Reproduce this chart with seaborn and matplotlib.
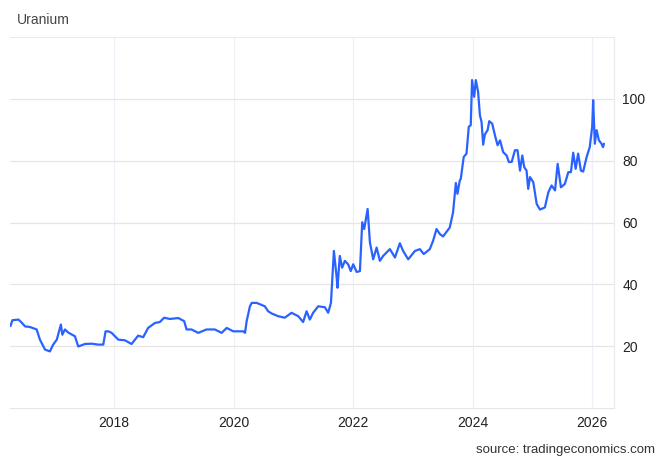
import pandas as pd
import numpy as np
import matplotlib
matplotlib.use("Agg")
import matplotlib.pyplot as plt
import matplotlib.dates as mdates
import seaborn as sns

sns.set_style("white")
plt.rcParams['font.family'] = ['Liberation Sans', 'DejaVu Sans']

# Uranium price (USD/lb)
dates = [
    '2016-04-08', '2016-04-20', '2016-05-27', '2016-06-16', '2016-07-06', '2016-08-05',
    '2016-09-15', '2016-10-05', '2016-11-05', '2016-12-05', '2016-12-25', '2017-01-16',
    '2017-02-10', '2017-02-19', '2017-03-07', '2017-03-27', '2017-05-07', '2017-05-27',
    '2017-07-07', '2017-08-17', '2017-09-26', '2017-10-27', '2017-11-10', '2017-11-27',
    '2017-12-17', '2018-01-27', '2018-03-08', '2018-04-08', '2018-04-18', '2018-05-28',
    '2018-06-28', '2018-07-28', '2018-09-07', '2018-10-07', '2018-11-03', '2018-12-08',
    '2019-01-28', '2019-03-05', '2019-03-20', '2019-04-19', '2019-05-30', '2019-07-20',
    '2019-09-09', '2019-10-20', '2019-11-20', '2019-12-30', '2020-03-01', '2020-03-11',
    '2020-03-21', '2020-04-10', '2020-04-21', '2020-05-21', '2020-07-10', '2020-07-30',
    '2020-08-20', '2020-09-29', '2020-11-09', '2020-12-20', '2021-01-30', '2021-03-01',
    '2021-03-22', '2021-04-11', '2021-05-01', '2021-06-01', '2021-07-12', '2021-08-01',
    '2021-08-18', '2021-09-05', '2021-09-21', '2021-09-27', '2021-10-11', '2021-10-25',
    '2021-11-11', '2021-12-01', '2021-12-17', '2022-01-01', '2022-01-22', '2022-02-11',
    '2022-02-25', '2022-03-09', '2022-03-30', '2022-04-13', '2022-05-03', '2022-05-24',
    '2022-06-13', '2022-07-03', '2022-08-13', '2022-09-13', '2022-10-13', '2022-11-02',
    '2022-12-03', '2023-01-13', '2023-02-12', '2023-03-08', '2023-04-14', '2023-05-04',
    '2023-05-25', '2023-06-14', '2023-07-04', '2023-08-14', '2023-09-03', '2023-09-20',
    '2023-09-30', '2023-10-14', '2023-10-20', '2023-11-07', '2023-11-24', '2023-12-08',
    '2023-12-20', '2023-12-28', '2024-01-10', '2024-01-20', '2024-02-03', '2024-02-14',
    '2024-02-24', '2024-03-05', '2024-03-15', '2024-04-01', '2024-04-11', '2024-04-29',
    '2024-05-16', '2024-06-01', '2024-06-16', '2024-07-05', '2024-07-26', '2024-08-09',
    '2024-08-26', '2024-09-15', '2024-10-01', '2024-10-16', '2024-10-30', '2024-11-11',
    '2024-11-25', '2024-12-05', '2024-12-16', '2025-01-05', '2025-01-26', '2025-02-15',
    '2025-03-17', '2025-04-07', '2025-04-27', '2025-05-18', '2025-06-03', '2025-06-23',
    '2025-07-17', '2025-08-07', '2025-08-23', '2025-09-06', '2025-09-21', '2025-10-06',
    '2025-10-23', '2025-11-06', '2025-11-27', '2025-12-16', '2025-12-31', '2026-01-06',
    '2026-01-16', '2026-01-27', '2026-02-10', '2026-02-26', '2026-03-07', '2026-03-13',
]
prices = [
    26.5, 28.4, 28.6, 27.6, 26.4, 26.2,
    25.4, 22.1, 18.9, 18.3, 20.5, 22.1,
    27.0, 23.7, 25.4, 24.4, 23.2, 19.9,
    20.7, 20.8, 20.5, 20.5, 24.8, 24.8,
    24.3, 22.1, 21.9, 21.0, 20.7, 23.4,
    22.9, 25.9, 27.5, 27.8, 29.2, 28.8,
    29.1, 28.1, 25.4, 25.4, 24.3, 25.4,
    25.4, 24.3, 25.9, 24.8, 24.8, 24.3,
    28.1, 32.9, 34.0, 34.0, 32.9, 31.3,
    30.6, 29.7, 29.2, 30.8, 29.7, 27.8,
    31.3, 28.6, 30.8, 32.9, 32.6, 30.8,
    34.0, 50.8, 42.7, 38.9, 49.2, 45.4,
    47.6, 46.5, 44.3, 46.5, 44.0, 44.3,
    60.1, 57.9, 64.4, 53.6, 48.1, 51.9,
    47.6, 49.2, 51.4, 48.7, 53.3, 50.8,
    48.1, 50.8, 51.4, 49.8, 51.4, 54.1,
    57.9, 56.3, 55.5, 58.4, 63.3, 72.8,
    69.3, 73.6, 74.1, 81.2, 82.3, 91.0,
    91.5, 106.1, 100.7, 106.1, 102.3, 94.7,
    92.6, 85.2, 88.5, 89.9, 92.8, 92.0,
    88.2, 85.0, 86.6, 82.8, 81.7, 79.6,
    79.6, 83.4, 83.4, 76.8, 81.7, 77.9,
    76.8, 70.9, 74.7, 73.1, 66.0, 64.2,
    64.9, 69.8, 72.0, 70.4, 79.0, 71.4,
    72.5, 76.3, 76.3, 82.6, 77.4, 82.3,
    76.8, 76.5, 81.2, 84.4, 91.0, 99.6,
    85.5, 89.9, 86.6, 85.5, 84.4, 85.5,
]
x_ticks = ['2018-01-01', '2020-01-01', '2022-01-01', '2024-01-01', '2026-01-01']
y_ticks = [20, 40, 60, 80, 100]

df = pd.DataFrame({'date': pd.to_datetime(dates), 'price': prices})

fig = plt.figure(figsize=(6.65, 4.70), dpi=100)
ax = fig.add_axes([0.015, 0.132, 0.908, 0.789])

sns.lineplot(data=df, x='date', y='price', color='#2962ff', linewidth=1.6, ax=ax)

ax.set_xlim(pd.Timestamp('2016-04-05'), pd.Timestamp('2026-05-12'))
ax.set_ylim(0, 120)
ax.set_yticks(y_ticks)
ax.set_xticks(pd.to_datetime(x_ticks))
ax.xaxis.set_major_formatter(mdates.DateFormatter('%Y'))
ax.yaxis.tick_right()
ax.tick_params(axis='both', length=0, labelsize=10, labelcolor='#222222')
ax.tick_params(axis='y', pad=6)
ax.tick_params(axis='x', pad=6)
ax.set_xlabel('')
ax.set_ylabel('')

ax.grid(axis='y', color='#e6e6e6', linewidth=0.9)
ax.grid(axis='x', color='#edf1f7', linewidth=0.9)
ax.axhline(120, color='#e6e6e6', linewidth=1.2)

for side in ['left', 'top']:
    ax.spines[side].set_visible(False)
ax.spines['bottom'].set_color('#e6e6e6')
ax.spines['right'].set_color('#e6ebf2')

fig.text(0.025, 0.957, 'Uranium', fontsize=10, color='#444444', va='center', ha='left')
fig.text(0.985, 0.043, 'source: tradingeconomics.com', fontsize=9.5, color='#333333',
         va='center', ha='right')

plt.savefig('out.png', dpi=100)
